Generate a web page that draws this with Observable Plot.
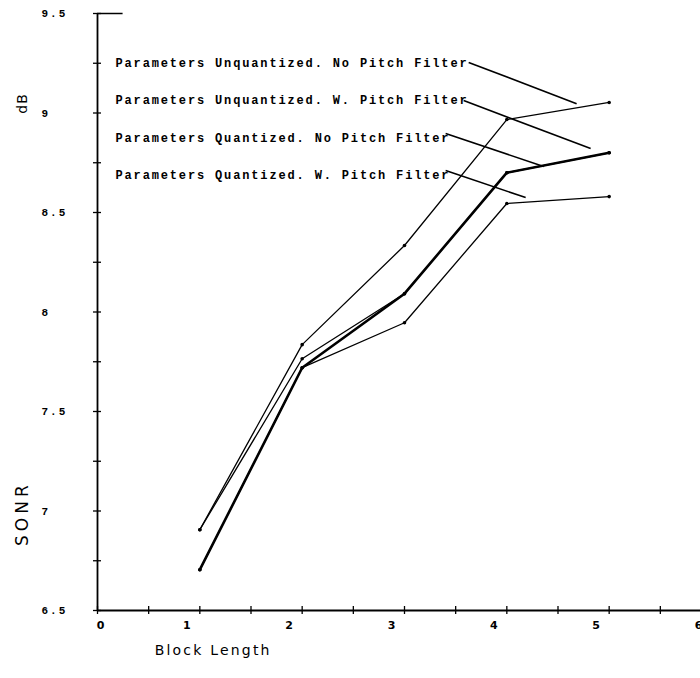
<!DOCTYPE html>
<html><head><meta charset="utf-8">
<script src="https://cdn.jsdelivr.net/npm/d3@7"></script>
<script src="https://cdn.jsdelivr.net/npm/@observablehq/plot@0.6"></script>
<style>
html,body{margin:0;padding:0;background:#fff;overflow:hidden}
#chart svg{display:block}
</style></head><body><div id="chart"></div>
<script>
// ---- data ----
const blockLength = [1, 2, 3, 4, 5];
const unquantizedNoPitch = [6.906, 7.836, 8.334, 8.967, 9.053];
const unquantizedWPitch  = [6.906, 7.765, 8.092, 8.700, 8.800];
const quantizedNoPitch   = [6.705, 7.720, 8.092, 8.700, 8.800];
const quantizedWPitch    = [6.705, 7.720, 7.946, 8.545, 8.580];
const seriesNames = [
  "Parameters Unquantized. No Pitch Filter",
  "Parameters Unquantized. W. Pitch Filter",
  "Parameters Quantized. No Pitch Filter",
  "Parameters Quantized. W. Pitch Filter"
];
const xTickLabels = ["0", "1", "2", "3", "4", "5", "6"];
const xMinorTicks = [0, 0.5, 1, 1.5, 2, 2.5, 3, 3.5, 4, 4.5, 5, 5.5, 6];
const yTickLabels = [6.5, 7, 7.5, 8, 8.5, 9, 9.5];
const yMinorTicks = [6.5, 6.75, 7, 7.25, 7.5, 7.75, 8, 8.25, 8.5, 8.75, 9, 9.25, 9.5];
const yTitle = "SONR";
const yUnit = "dB";
const xTitle = "Block Length";

// ---- annotation layout (data units) ----
const labelX = 0.176;
const labelY = [9.25, 9.063, 8.875, 8.688];
const leaderX1 = [3.627, 3.578, 3.402, 3.402];
const leaderY1 = [9.254, 9.063, 8.897, 8.711];
const leaderX2 = [4.682, 4.819, 4.360, 4.184];
const leaderY2 = [9.047, 8.821, 8.731, 8.575];

const seriesValues = [unquantizedNoPitch, unquantizedWPitch, quantizedNoPitch, quantizedWPitch];
const rows = seriesValues.flatMap((vals, s) =>
  blockLength.map((x, i) => ({x, y: vals[i], series: seriesNames[s]})));
const leaders = seriesNames.map((name, i) => ({
  name, x1: leaderX1[i], y1: leaderY1[i], x2: leaderX2[i], y2: leaderY2[i]}));
const boldSeries = seriesNames[2];
const noLabel = () => "";
const tickFont = {fontFamily: "Liberation Mono", fontWeight: "bold"};
const xLabelFont = {fontSize: 11, fontFamily: "DejaVu Sans", fontWeight: "bold"};

const chart = Plot.plot({
  width: 700,
  height: 678,
  marginLeft: 97,
  marginRight: -11,
  marginTop: 13,
  marginBottom: 68,
  style: {background: "#fff", color: "#000", fontFamily: "DejaVu Sans"},
  x: {domain: [0, 6], axis: null},
  y: {domain: [6.5, 9.5], axis: null},
  marks: [
    // axis lines
    Plot.ruleX([0], {y1: 6.5, y2: 9.5, stroke: "#000", strokeWidth: 1.8}),
    Plot.ruleY([6.5], {x1: 0, x2: 6, stroke: "#000", strokeWidth: 1.8}),
    Plot.ruleY([9.5], {x1: 0, x2: 0.25, stroke: "#000", strokeWidth: 1.5}),
    // ticks
    Plot.axisY({ticks: yMinorTicks, tickSize: 8, dx: 4, tickFormat: noLabel, strokeWidth: 1.3}),
    Plot.axisX({ticks: xMinorTicks, tickSize: 8, dy: -4, tickFormat: noLabel, strokeWidth: 1.3}),
    // tick labels
    Plot.axisY({ticks: yTickLabels, tickSize: 0, tickPadding: 56, textAnchor: "start",
      tickFormat: d => (d % 1 ? d.toFixed(1) : String(d)), fontSize: 11, ...tickFont}),
    Plot.text(xTickLabels.slice(1), {x: d => +d, frameAnchor: "bottom", dy: 18, dx: -13,
      text: d => d, ...xLabelFont}),
    Plot.text(xTickLabels.slice(0, 1), {x: d => +d, frameAnchor: "bottom", dy: 18, dx: 3,
      text: d => d, ...xLabelFont}),
    // data lines
    Plot.line(rows.filter(d => d.series !== boldSeries), {x: "x", y: "y", z: "series", stroke: "#000", strokeWidth: 1.3}),
    Plot.line(rows.filter(d => d.series === boldSeries), {x: "x", y: "y", z: "series", stroke: "#000", strokeWidth: 2.6}),
    Plot.dot(rows, {x: "x", y: "y", r: 1.8, fill: "#000"}),
    // legend labels and leaders
    Plot.text(seriesNames, {x: () => labelX, y: (d, i) => labelY[i], text: d => d,
      textAnchor: "start", fontSize: 12, ...tickFont}),
    Plot.link(leaders, {x1: "x1", y1: "y1", x2: "x2", y2: "y2", stroke: "#000", strokeWidth: 1.6}),
    // axis titles
    Plot.text([yTitle], {x: () => -0.73, y: () => 6.987, rotate: -90, fontSize: 17,
      fontFamily: "DejaVu Sans", clip: false}),
    Plot.text([yUnit], {x: () => -0.73, y: () => 9.048, rotate: -90, fontSize: 14,
      fontFamily: "DejaVu Sans", clip: false}),
    Plot.text([xTitle], {x: () => 1.13, y: () => 6.299, fontSize: 14,
      fontFamily: "DejaVu Sans", clip: false})
  ]
});
document.getElementById("chart").appendChild(chart);
const spacing = new Map([
  ...seriesNames.map(s => [s, "1.85px"]),
  ...yTickLabels.map(d => [(d % 1 ? d.toFixed(1) : String(d)), "2px"]),
  [yTitle, "4px"], [yUnit, "1px"], [xTitle, "2.2px"]
]);
d3.select(chart).selectAll("text").each(function() {
  const t = this.textContent;
  if (t.length > 1 && spacing.has(t)) this.style.letterSpacing = spacing.get(t);
});
</script></body></html>
